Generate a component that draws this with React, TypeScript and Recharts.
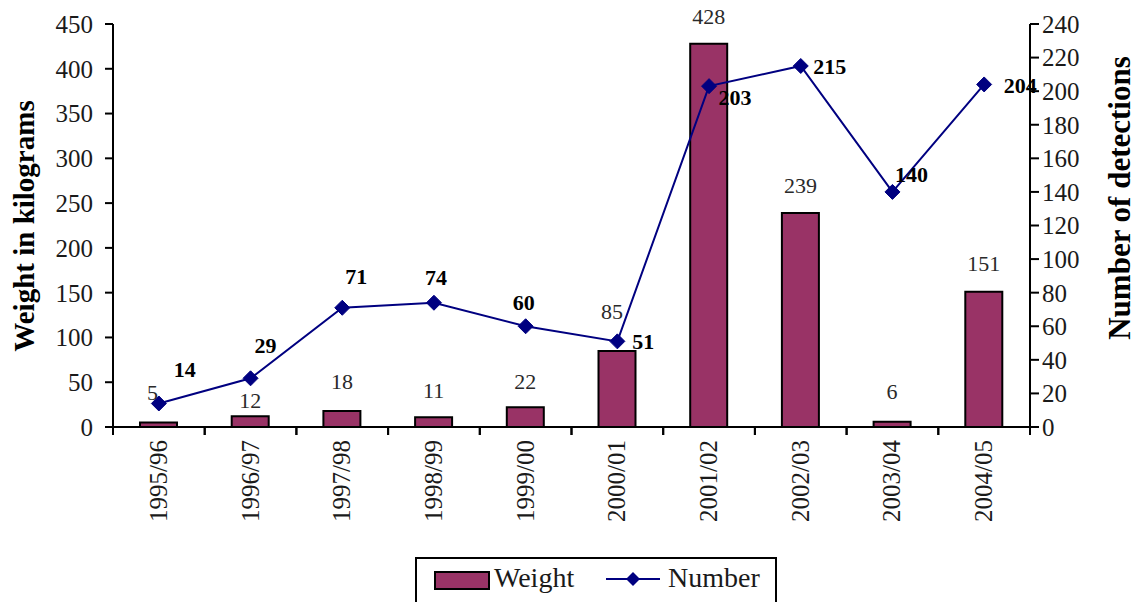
import React from 'react';
import { ComposedChart, Bar, Line, XAxis, YAxis, LabelList } from 'recharts';

const categories = ['1995/96', '1996/97', '1997/98', '1998/99', '1999/00', '2000/01', '2001/02', '2002/03', '2003/04', '2004/05'];
const weightValues = [5, 12, 18, 11, 22, 85, 428, 239, 6, 151];
const numberValues = [14, 29, 71, 74, 60, 51, 203, 215, 140, 204];
const leftTicks = [0, 50, 100, 150, 200, 250, 300, 350, 400, 450];
const rightTicks = [0, 20, 40, 60, 80, 100, 120, 140, 160, 180, 200, 220, 240];

// label placement nudges (layout only)
const weightLabelNudge: [number, number][] = [[-6, -30], [0, -16], [0, -29], [0, -27], [0, -26], [-5, -39], [0, -27], [0, -27], [0, -30], [0, -28]];
const numberLabelNudge: [number, number][] = [[26, -34], [15, -33], [14, -31], [2, -25], [-2, -24], [26, 0], [26, 11], [29, 1], [19, -17], [36, 1]];

const data = categories.map((c, i) => ({ period: c, weight: weightValues[i], number: numberValues[i] }));

const FONT = 'Liberation Serif, Times New Roman, serif';
const BAR_FILL = '#993366';
const LINE_COLOR = '#000080';

const XTick = (props: any) => {
  const { x, y, payload } = props;
  const half = payload && payload.offset ? payload.offset : 45.85;
  const axisY = y - 8;
  return (
    <g>
      <line x1={x - half} y1={axisY - 1} x2={x - half} y2={axisY + 8} stroke="#000" strokeWidth={2} />
      <line x1={x + half} y1={axisY - 1} x2={x + half} y2={axisY + 8} stroke="#000" strokeWidth={2} />
      <text
        x={0}
        y={0}
        transform={`translate(${x + 8}, ${axisY + 13}) rotate(-90)`}
        textAnchor="end"
        fontFamily={FONT}
        fontSize={25}
        fill="#1a1a1a"
      >
        {payload.value}
      </text>
    </g>
  );
};

const Diamond = (props: any) => {
  const { cx, cy } = props;
  if (cx == null || cy == null) return null;
  const r = 7.5;
  return <polygon points={`${cx},${cy - r} ${cx + r},${cy} ${cx},${cy + r} ${cx - r},${cy}`} fill={LINE_COLOR} stroke={LINE_COLOR} strokeWidth={1} />;
};

const WeightLabel = (props: any) => {
  const { x, y, width, value, index } = props;
  const [dx, dy] = weightLabelNudge[index] || [0, -27];
  return (
    <text x={x + width / 2 + dx} y={y + dy} textAnchor="middle" dominantBaseline="central" fontFamily={FONT} fontSize={22} fill="#2a2a2a">
      {value}
    </text>
  );
};

const NumberLabel = (props: any) => {
  const { x, y, value, index } = props;
  const [dx, dy] = numberLabelNudge[index] || [0, -27];
  return (
    <text x={x + dx} y={y + dy} textAnchor="middle" dominantBaseline="central" fontFamily={FONT} fontSize={22} fontWeight="bold" fill="#000">
      {value}
    </text>
  );
};

const LeftTitle = () => (
  <text transform="translate(24, 226) rotate(-90)" textAnchor="middle" dominantBaseline="central" fontFamily={FONT} fontSize={29} fontWeight="bold" fill="#000">
    Weight in kilograms
  </text>
);

const RightTitle = () => (
  <text transform="translate(1119, 198) rotate(-90)" textAnchor="middle" dominantBaseline="central" fontFamily={FONT} fontSize={31} fontWeight="bold" fill="#000">
    Number of detections
  </text>
);

export default function App() {
  return (
    <div style={{ position: 'absolute', left: 0, top: 0, width: 1136, height: 602, background: '#fff', overflow: 'hidden' }}>
      <ComposedChart width={1136} height={602} data={data} margin={{ top: 24, right: 0, left: 0, bottom: 0 }}>
        <XAxis
          dataKey="period"
          xAxisId={0}
          height={175}
          interval={0}
          tickLine={false}
          axisLine={{ stroke: '#000', strokeWidth: 2 }}
          tick={<XTick />}
        />
        <YAxis
          yAxisId="left"
          domain={[0, 450]}
          ticks={leftTicks}
          width={113}
          tickSize={8}
          tickMargin={12}
          axisLine={{ stroke: '#000', strokeWidth: 2 }}
          tickLine={{ stroke: '#000', strokeWidth: 2 }}
          tick={{ fontFamily: FONT, fontSize: 25, fill: '#1a1a1a' }}
          label={<LeftTitle />}
        />
        <YAxis
          yAxisId="right"
          orientation="right"
          domain={[0, 240]}
          ticks={rightTicks}
          width={106}
          tickSize={9}
          tickMargin={3}
          axisLine={{ stroke: '#000', strokeWidth: 2 }}
          tickLine={{ stroke: '#000', strokeWidth: 2 }}
          tick={{ fontFamily: FONT, fontSize: 25, fill: '#1a1a1a' }}
          label={<RightTitle />}
        />
        <Bar yAxisId="left" dataKey="weight" fill={BAR_FILL} stroke="#000" strokeWidth={2} barSize={37} isAnimationActive={false}>
          <LabelList dataKey="weight" content={<WeightLabel />} />
        </Bar>
        <Line
          yAxisId="right"
          dataKey="number"
          type="linear"
          stroke={LINE_COLOR}
          strokeWidth={2}
          dot={<Diamond />}
          activeDot={false}
          isAnimationActive={false}
        >
          <LabelList dataKey="number" content={<NumberLabel />} />
        </Line>
      </ComposedChart>
      <div
        style={{
          position: 'absolute',
          left: 415,
          top: 557,
          width: 362,
          height: 60,
          border: '2px solid #000',
          boxSizing: 'border-box',
          background: '#fff',
          fontFamily: FONT,
          fontSize: 28,
          color: '#1a1a1a',
        }}
      >
        <div style={{ position: 'absolute', left: 17, top: 12, width: 52, height: 15, background: BAR_FILL, border: '2px solid #000' }} />
        <div style={{ position: 'absolute', left: 77, top: 3, lineHeight: '32px' }}>Weight</div>
        <svg style={{ position: 'absolute', left: 188, top: 10 }} width={56} height={20}>
          <line x1={1} y1={10} x2={55} y2={10} stroke={LINE_COLOR} strokeWidth={2} />
          <polygon points="28,3 35,10 28,17 21,10" fill={LINE_COLOR} />
        </svg>
        <div style={{ position: 'absolute', left: 251, top: 3, lineHeight: '32px' }}>Number</div>
      </div>
    </div>
  );
}
